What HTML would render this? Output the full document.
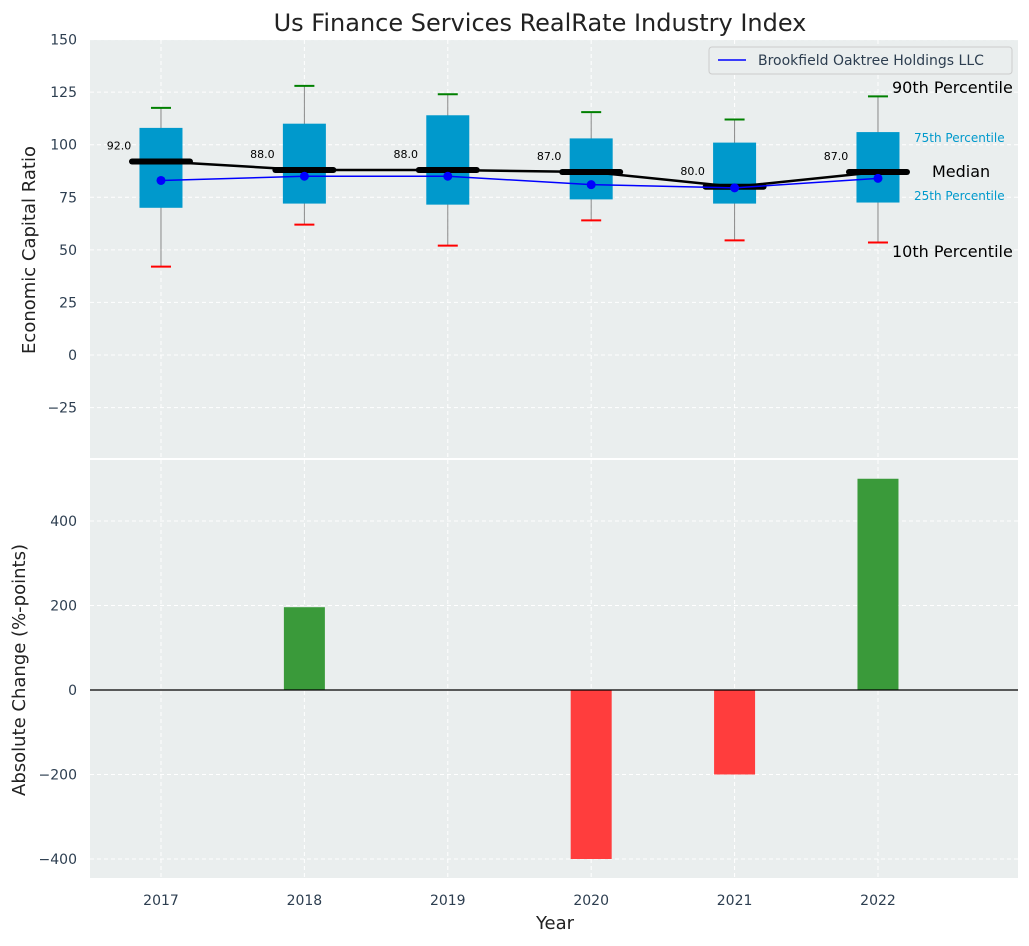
<!DOCTYPE html>
<html><head><meta charset="utf-8"><style>
body{margin:0;background:#fff;font-family:"DejaVu Sans","Liberation Sans",sans-serif;}
svg text{font-family:"DejaVu Sans","Liberation Sans",sans-serif;}
</style></head><body>
<svg id="c" width="1029" height="942" xmlns="http://www.w3.org/2000/svg"></svg>
<script>
const years=["2017","2018","2019","2020","2021","2022"];
const p10=[42,62,52,64,54.5,53.5];
const q25=[70,72,71.5,74,72,72.5];
const medians=[92,88,88,87,80,87];
const q75=[108,110,114,103,101,106];
const p90=[117.5,128,124,115.5,112,123];
const company=[83,85,85,81,79.5,84];
const changes=[0,196,0,-400,-200,500];
const topTicks=[-25,0,25,50,75,100,125,150];
const botTicks=[-400,-200,0,200,400];

const NS="http://www.w3.org/2000/svg";
const svg=document.getElementById('c');
function el(t,a,txt){const e=document.createElementNS(NS,t);for(const k in a)e.setAttribute(k,a[k]);if(txt!==undefined)e.textContent=txt;svg.appendChild(e);return e;}
const L=90,R=1018;
const x=i=>L+(i+0.495)*143.4;
const yT=v=>355-v*2.1029;
const yB=v=>690-v*0.4225;
const TT=40,TB=458,BT=460,BB=878;

let e;
e=el('rect',{x:L,y:TT,width:R-L,height:TB-TT,fill:'#eaeeee'});

e=el('rect',{x:L,y:BT,width:R-L,height:BB-BT,fill:'#eaeeee'});


topTicks.forEach(v=>{
  el('line',{x1:L,x2:R,y1:yT(v),y2:yT(v),stroke:'#fff','stroke-dasharray':'4,3','stroke-width':1});
  e=el('text',{x:L-13,y:yT(v)+5,'text-anchor':'end','font-size':14,fill:'#2d3e50'},v<0?'\u2212'+(-v):v);
  
});
botTicks.forEach(v=>{
  el('line',{x1:L,x2:R,y1:yB(v),y2:yB(v),stroke:'#fff','stroke-dasharray':'4,3','stroke-width':1});
  e=el('text',{x:L-13,y:yB(v)+5,'text-anchor':'end','font-size':14,fill:'#2d3e50'},v<0?'\u2212'+(-v):v);
  
});
years.forEach((y,i)=>{
  el('line',{x1:x(i),x2:x(i),y1:TT,y2:TB,stroke:'#fff','stroke-dasharray':'4,3'});
  el('line',{x1:x(i),x2:x(i),y1:BT,y2:BB,stroke:'#fff','stroke-dasharray':'4,3'});
  e=el('text',{x:x(i),y:905,'text-anchor':'middle','font-size':14,fill:'#2d3e50'},y);
  
});

years.forEach((y,i)=>{
  const cx=x(i);
  el('line',{x1:cx,x2:cx,y1:yT(p90[i]),y2:yT(p10[i]),stroke:'#888','stroke-width':1});
  e=el('rect',{x:cx-21.5,y:yT(q75[i]),width:43,height:yT(q25[i])-yT(q75[i]),fill:'#0099cc'});
  
  el('line',{x1:cx-10,x2:cx+10,y1:yT(p90[i]),y2:yT(p90[i]),stroke:'green','stroke-width':2});
  el('line',{x1:cx-10,x2:cx+10,y1:yT(p10[i]),y2:yT(p10[i]),stroke:'red','stroke-width':2});
});
let d=medians.map((m,i)=>(i?'L':'M')+x(i)+','+yT(m)).join(' ');
e=el('path',{d:d,fill:'none',stroke:'#000','stroke-width':2.5});

medians.forEach((m,i)=>{
  e=el('line',{x1:x(i)-29,x2:x(i)+29,y1:yT(m),y2:yT(m),stroke:'#000','stroke-width':6,'stroke-linecap':'round'});
  
  e=el('text',{x:x(i)-42,y:yT(m)-12,'text-anchor':'middle','font-size':11,fill:'#000'},m.toFixed(1));
  
});
d=company.map((m,i)=>(i?'L':'M')+x(i)+','+yT(m)).join(' ');
e=el('path',{d:d,fill:'none',stroke:'blue','stroke-width':1.5});

company.forEach((m,i)=>{e=el('circle',{cx:x(i),cy:yT(m),r:4.5,fill:'blue'});
  });

const ann=[["90th Percentile",892,93,16,'#000'],["75th Percentile",914,142,12,'#0099cc'],["Median",932,177,16,'#000'],["25th Percentile",914,200,12,'#0099cc'],["10th Percentile",892,257,16,'#000']];
ann.forEach(a=>{e=el('text',{x:a[1],y:a[2],'font-size':a[3],fill:a[4]},a[0]);
  });

e=el('rect',{x:709,y:47,width:303,height:27,fill:'#eaeeee',stroke:'#ccc',rx:3});

el('line',{x1:718,x2:746,y1:60,y2:60,stroke:'blue','stroke-width':1.5});
e=el('text',{x:758,y:65,'font-size':14,fill:'#2d3e50'},'Brookfield Oaktree Holdings LLC');


changes.forEach((v,i)=>{
  const y0=yB(0),y1=yB(v);
  e=el('rect',{x:x(i)-20.5,y:Math.min(y0,y1),width:41,height:Math.abs(y1-y0),fill:v>=0?'#3a9a3a':'#ff3d3d'});
  
});
el('line',{x1:L,x2:R,y1:yB(0),y2:yB(0),stroke:'#000','stroke-width':1.2});

e=el('text',{x:540,y:31,'text-anchor':'middle','font-size':24,fill:'#222'},'Us Finance Services RealRate Industry Index');

e=el('text',{x:0,y:0,'text-anchor':'middle','font-size':18,fill:'#222',transform:'translate(35,250) rotate(-90)'},'Economic Capital Ratio');

e=el('text',{x:0,y:0,'text-anchor':'middle','font-size':18,fill:'#222',transform:'translate(25,670) rotate(-90)'},'Absolute Change (%-points)');

e=el('text',{x:555,y:929,'text-anchor':'middle','font-size':18,fill:'#222'},'Year');

</script>
</body></html>
